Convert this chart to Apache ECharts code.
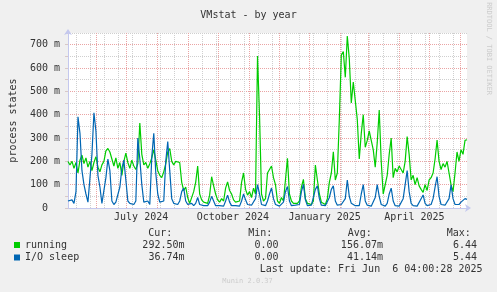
<!DOCTYPE html>
<html><head><meta charset="utf-8">
<script src="https://cdn.jsdelivr.net/npm/echarts@6/dist/echarts.min.js"></script>
<style>html,body{margin:0;padding:0;background:#f0f0f0}#c{width:497px;height:292px}</style>
</head><body><div id="c"></div>
<script>
// ---- data (values in milli "m" units, one sample every 2 days) ----
const startDate = Date.UTC(2024, 4, 3, 16, 48); // left edge of the plot
const stepDays = 2;
const totalDays = 400;
const running = [
 199,184,200,170,195,150,205,227,190,215,
 175,200,160,195,220,175,155,185,200,245,
 255,240,210,180,215,170,195,140,200,235,
 195,170,205,180,165,190,364,230,185,195,
 170,190,215,250,205,160,140,130,155,190,
 240,255,200,185,200,205,195,110,75,90,
 45,20,25,70,110,180,60,35,25,28,
 20,55,134,95,60,35,25,40,30,85,
 112,75,60,35,25,20,30,110,150,80,
 55,70,45,85,60,651,399,60,30,40,
 150,165,180,130,100,30,20,45,30,120,
 213,60,30,20,15,20,30,90,123,40,
 20,25,15,30,184,120,60,25,20,15,
 40,110,150,241,120,150,380,655,670,560,
 737,640,450,540,460,380,210,320,400,260,
 290,330,290,250,175,280,420,200,60,55,
 140,230,300,130,170,155,180,185,150,200,
 306,230,120,140,100,130,95,80,67,100,
 75,120,130,150,210,291,200,165,190,175,
 200,150,100,70,150,240,200,250,230,290,
 292.5
];
const ioSleep = [
 30,25,35,20,70,391,320,160,100,60,
 25,20,230,408,330,140,90,20,25,130,
 210,160,30,15,25,20,90,170,205,120,
 30,20,25,15,30,300,210,100,25,20,
 30,15,220,320,150,60,25,20,30,200,
 285,160,40,20,25,15,30,70,85,30,
 15,10,20,10,20,45,15,10,10,8,
 10,25,50,30,10,8,10,12,8,30,
 55,25,10,8,10,12,8,30,60,35,
 15,10,12,20,40,100,60,15,8,10,
 30,60,86,40,15,10,8,10,25,70,
 92,30,10,8,12,8,15,70,101,35,
 10,8,12,20,80,95,40,12,8,10,
 15,45,80,95,30,12,10,15,12,40,
 120,50,20,12,10,15,10,60,100,30,
 12,10,8,10,45,100,50,15,10,8,
 20,60,85,30,10,12,8,15,40,100,
 160,70,20,10,12,8,15,40,56,20,
 10,12,15,40,90,134,50,15,10,12,
 8,40,99,40,15,10,15,25,20,40,
 36.74
];
const seriesNames = ['running', 'I/O sleep'];
const seriesColors = ['#00cc00', '#0066b3'];
const curText = ['292.50m', '36.74m'];
const minText = ['0.00', '0.00'];
const avgText = ['156.07m', '41.14m'];
const maxText = ['6.44', '5.44'];
const yMajorTicks = [0,100,200,300,400,500,600,700];
const yMinorTicks = [50,150,250,350,450,550,650,750];
const monthStarts = ['2024-06-01','2024-07-01','2024-08-01','2024-09-01','2024-10-01','2024-11-01',
 '2024-12-01','2025-01-01','2025-02-01','2025-03-01','2025-04-01','2025-05-01','2025-06-01'];
const xTickLabels = ['July 2024','October 2024','January 2025','April 2025'];
const xTickDates = ['2024-07-16','2024-10-16','2025-01-16','2025-04-16'];
const minorGridFirst = '2024-05-12';
const minorGridEveryDays = 14;

// ---- helpers ----
const dayOf = s => (Date.parse(s + 'T00:00:00Z') - startDate) / 86400000;
const monthDays = monthStarts.map(dayOf);
const labelDays = xTickDates.map(dayOf);
const minorDays = [];
for (let d = dayOf(minorGridFirst); d < totalDays; d += minorGridEveryDays) minorDays.push(d);
const toPairs = arr => arr.map((v, i) => [i * stepDays, v]);

const FONT = '"DejaVu Sans Mono", monospace';
const TXT = '#333';
const RED = '#eaa4a4';
const GRAY = '#cfcfcf';

const chart = echarts.init(document.getElementById('c'), null, {renderer: 'canvas'});

const txt = (x, y, s, extra) => ({
  type: 'text', x: x, y: y, silent: true,
  style: Object.assign({text: s, font: '10px ' + FONT, fill: TXT, verticalAlign: 'middle', align: 'left'}, extra || {})
});

const graphic = [];
const rowY = [245, 257.5];
seriesNames.forEach((n, i) => {
  graphic.push({type: 'rect', silent: true, shape: {x: 14, y: rowY[i] - 3, width: 6, height: 6}, style: {fill: seriesColors[i]}});
  graphic.push(txt(25, rowY[i], n));
});
graphic.push(txt(148.3, 233.5, 'Cur:'));
graphic.push(txt(248.3, 233.5, 'Min:'));
graphic.push(txt(347.7, 233.5, 'Avg:'));
graphic.push(txt(446.7, 233.5, 'Max:'));
[0, 1].forEach(i => {
  graphic.push(txt(184.5, rowY[i], curText[i], {align: 'right'}));
  graphic.push(txt(278.5, rowY[i], minText[i], {align: 'right'}));
  graphic.push(txt(383, rowY[i], avgText[i], {align: 'right'}));
  graphic.push(txt(477, rowY[i], maxText[i], {align: 'right'}));
});
graphic.push(txt(482.5, 269.5, 'Last update: Fri Jun  6 04:00:28 2025', {align: 'right'}));
graphic.push(txt(247.5, 281, 'Munin 2.0.37', {align: 'center', font: '7px ' + FONT, fill: '#cccccc'}));
graphic.push({type: 'text', x: 489, y: 48.5, rotation: -Math.PI / 2, silent: true,
  style: {text: 'RRDTOOL / TOBI OETIKER', font: '7px ' + FONT, fill: '#cccccc', align: 'center', verticalAlign: 'middle'}});

const hiddenX = (custom, color) => ({
  type: 'value', min: 0, max: totalDays, gridIndex: 0,
  axisLine: {show: false}, axisLabel: {show: false},
  axisTick: {show: false, customValues: custom},
  splitLine: {show: true, lineStyle: {color: color, type: [1, 1], width: 1}}
});

chart.setOption({
  animation: false,
  backgroundColor: '#f0f0f0',
  title: {text: 'VMstat - by year', left: 'center', top: 5,
    textStyle: {fontFamily: FONT, fontSize: 10, fontWeight: 'normal', color: TXT}},
  grid: {left: 67, right: 30, top: 33, bottom: 84, show: true, backgroundColor: '#ffffff', borderWidth: 0},
  xAxis: [
    {
      type: 'value', min: 0, max: totalDays, position: 'bottom',
      axisLine: {show: true, onZero: false, lineStyle: {color: '#c4c8ee', width: 1}, symbol: ['none', 'arrow'], symbolSize: [6, 6], symbolOffset: [0, 4]},
      axisTick: {show: false, customValues: labelDays},
      splitLine: {show: false},
      axisLabel: {show: true, customValues: labelDays, margin: 4, color: TXT, fontFamily: FONT, fontSize: 10,
        formatter: v => { const k = labelDays.findIndex(d => Math.abs(d - v) < 0.01); return k >= 0 ? xTickLabels[k] : ''; }}
    },
    hiddenX(minorDays, GRAY),
    hiddenX(monthDays, RED)
  ],
  yAxis: [
    {
      type: 'value', min: 0, max: 750, position: 'left',
      name: 'process states', nameLocation: 'middle', nameGap: 50, nameRotate: 90,
      nameTextStyle: {fontFamily: FONT, fontSize: 10, color: TXT},
      axisLine: {show: true, onZero: false, lineStyle: {color: '#c4c8ee', width: 1}, symbol: ['none', 'arrow'], symbolSize: [6, 6], symbolOffset: [0, 4]},
      axisTick: {show: true, length: 3, customValues: yMajorTicks.concat(yMinorTicks), lineStyle: {color: '#d8c8c8', width: 1}},
      splitLine: {show: false},
      axisLabel: {show: true, customValues: yMajorTicks, margin: 8, color: TXT, fontFamily: FONT, fontSize: 10,
        formatter: v => v === 0 ? '0  ' : v + ' m'}
    },
    {
      type: 'value', min: 0, max: 750,
      axisLine: {show: false}, axisLabel: {show: false},
      axisTick: {show: false, customValues: yMinorTicks},
      splitLine: {show: true, lineStyle: {color: GRAY, type: [1, 1], width: 1}}
    },
    {
      type: 'value', min: 0, max: 750,
      axisLine: {show: false}, axisLabel: {show: false},
      axisTick: {show: false, customValues: yMajorTicks},
      splitLine: {show: true, lineStyle: {color: RED, type: [1, 1], width: 1}}
    }
  ],
  series: [
    {name: seriesNames[0], type: 'line', xAxisIndex: 0, yAxisIndex: 0, data: toPairs(running),
      showSymbol: false, symbol: 'none', lineStyle: {color: seriesColors[0], width: 1.2}, z: 3},
    {name: seriesNames[1], type: 'line', xAxisIndex: 0, yAxisIndex: 0, data: toPairs(ioSleep),
      showSymbol: false, symbol: 'none', lineStyle: {color: seriesColors[1], width: 1.2}, z: 4}
  ],
  graphic: graphic
});
</script></body></html>
